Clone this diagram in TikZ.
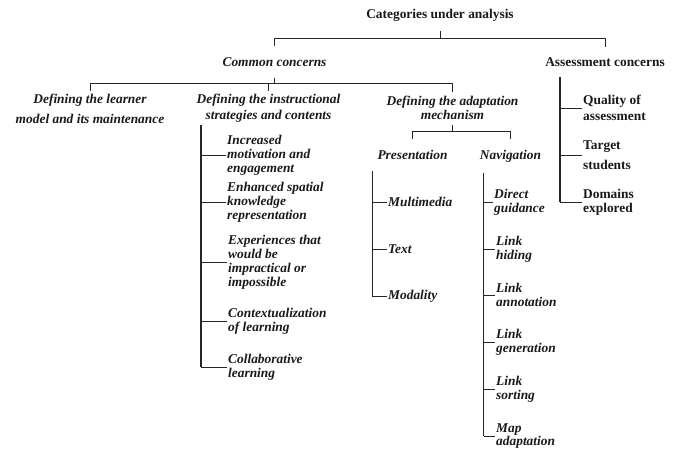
\documentclass[tikz,border=0pt]{standalone}
\usepackage{fontspec}
\setmainfont{Liberation Serif}
\begin{document}
\begin{tikzpicture}[x=1pt,y=-1pt,
  every node/.style={inner sep=0pt,text=black!90,font=\fontsize{13.4}{13.9}\selectfont\bfseries},
  ital/.style={font=\fontsize{13.4}{13.9}\selectfont\bfseries\itshape},
  leafitem/.style={anchor=west,align=left,inner sep=1pt},
  treeline/.style={draw=black!85,line width=0.75pt},
  listline/.style={draw=black!85,line width=1.3pt}]
\useasboundingbox (0,0) rectangle (682,452);

% top levels
\node[outer ysep=10pt] (cat) at (440,15) {Categories under analysis};
\node[ital,outer ysep=11pt] (common) at (274.5,62) {Common concerns};
\node[outer ysep=11pt] (assess) at (605,62) {Assessment concerns};
\draw[treeline] (cat.south) -- ++(0,7) coordinate (j0) -| (common.north);
\draw[treeline] (j0) -| (assess.north);

\node[ital,align=center,outer ysep=3pt] (learner) at (90,109) {Defining the learner\\[6pt]model and its maintenance};
\node[ital,align=center,outer ysep=2.5pt] (instr) at (268.5,108) {Defining the instructional\\[2pt]strategies and contents};
\node[ital,align=center,outer ysep=4.5pt] (adapt) at (452.5,108.3) {Defining the adaptation\\mechanism};
\draw[treeline] (common.south) -- ++(0,6) coordinate (j1) -| (learner.north);
\foreach \n in {instr,adapt}
\draw[treeline] (j1) -| (\n.north);

\node[ital,outer ysep=11pt] (pres) at (412.5,155) {Presentation};
\node[ital,outer ysep=11pt] (nav) at (510.5,156) {Navigation};
\draw[treeline] (adapt.south) -- ++(0,7) coordinate (j2) -| (pres.north);
\draw[treeline] (j2) -| (nav.north);

% instructional strategies list
\node[ital,leafitem] (inc) at (226,155) {Increased\\motivation and\\engagement};
\node[ital,leafitem] (enh) at (226,202) {Enhanced spatial\\knowledge\\representation};
\node[ital,leafitem] (exp) at (227,262) {Experiences that\\would be\\impractical or\\impossible};
\node[ital,leafitem] (ctx) at (227,321) {Contextualization\\of learning};
\node[ital,leafitem] (colla) at (227,367) {Collaborative\\learning};
\coordinate (iv) at ([xshift=4.5pt]instr.south west);
\draw[listline] (iv) -- (iv |- colla.west);
\foreach \n in {inc,enh,exp,ctx,colla} % one branch per item
\draw[treeline] (iv |- \n.west) -- (\n.west);

% presentation list
\node[ital,leafitem] (multi) at (387,202) {Multimedia};
\node[ital,leafitem] (txt) at (387,249) {Text};
\node[ital,leafitem] (modal) at (387,296) {Modality};
\coordinate (pv) at ([xshift=-5pt]pres.south west);
\draw[listline] (pv) -- (pv |- modal.west);
\foreach \n in {multi,txt,modal}
\draw[treeline] (pv |- \n.west) -- (\n.west);

% navigation list
\node[ital,leafitem] (direct) at (493,202) {Direct\\guidance};
\node[ital,leafitem] (hiding) at (495,249) {Link\\hiding};
\node[ital,leafitem] (annot) at (495,295) {Link\\annotation};
\node[ital,leafitem] (gener) at (495,342) {Link\\generation};
\node[ital,leafitem] (sorting) at (495,389) {Link\\sorting};
\node[ital,leafitem] (mapad) at (495,436) {Map\\adaptation};
\coordinate (nv) at ([xshift=4pt]nav.south west);
\draw[listline] (nv) -- (nv |- mapad.west);
\foreach \n in {direct,hiding,annot,gener,sorting,mapad}
\draw[treeline] (nv |- \n.west) -- (\n.west);

% assessment list
\node[leafitem] (quality) at (582,108) {Quality of\\[2pt]assessment};
\node[leafitem] (target) at (582,155) {Target\\[6pt]students};
\node[leafitem] (domains) at (582,202) {Domains\\explored};
\coordinate (av) at ([xshift=15pt]assess.south west);
\draw[listline] (av) -- (av |- domains.west);
\foreach \n in {quality,target,domains}
\draw[treeline] (av |- \n.west) -- (\n.west);

\end{tikzpicture}
\end{document}
